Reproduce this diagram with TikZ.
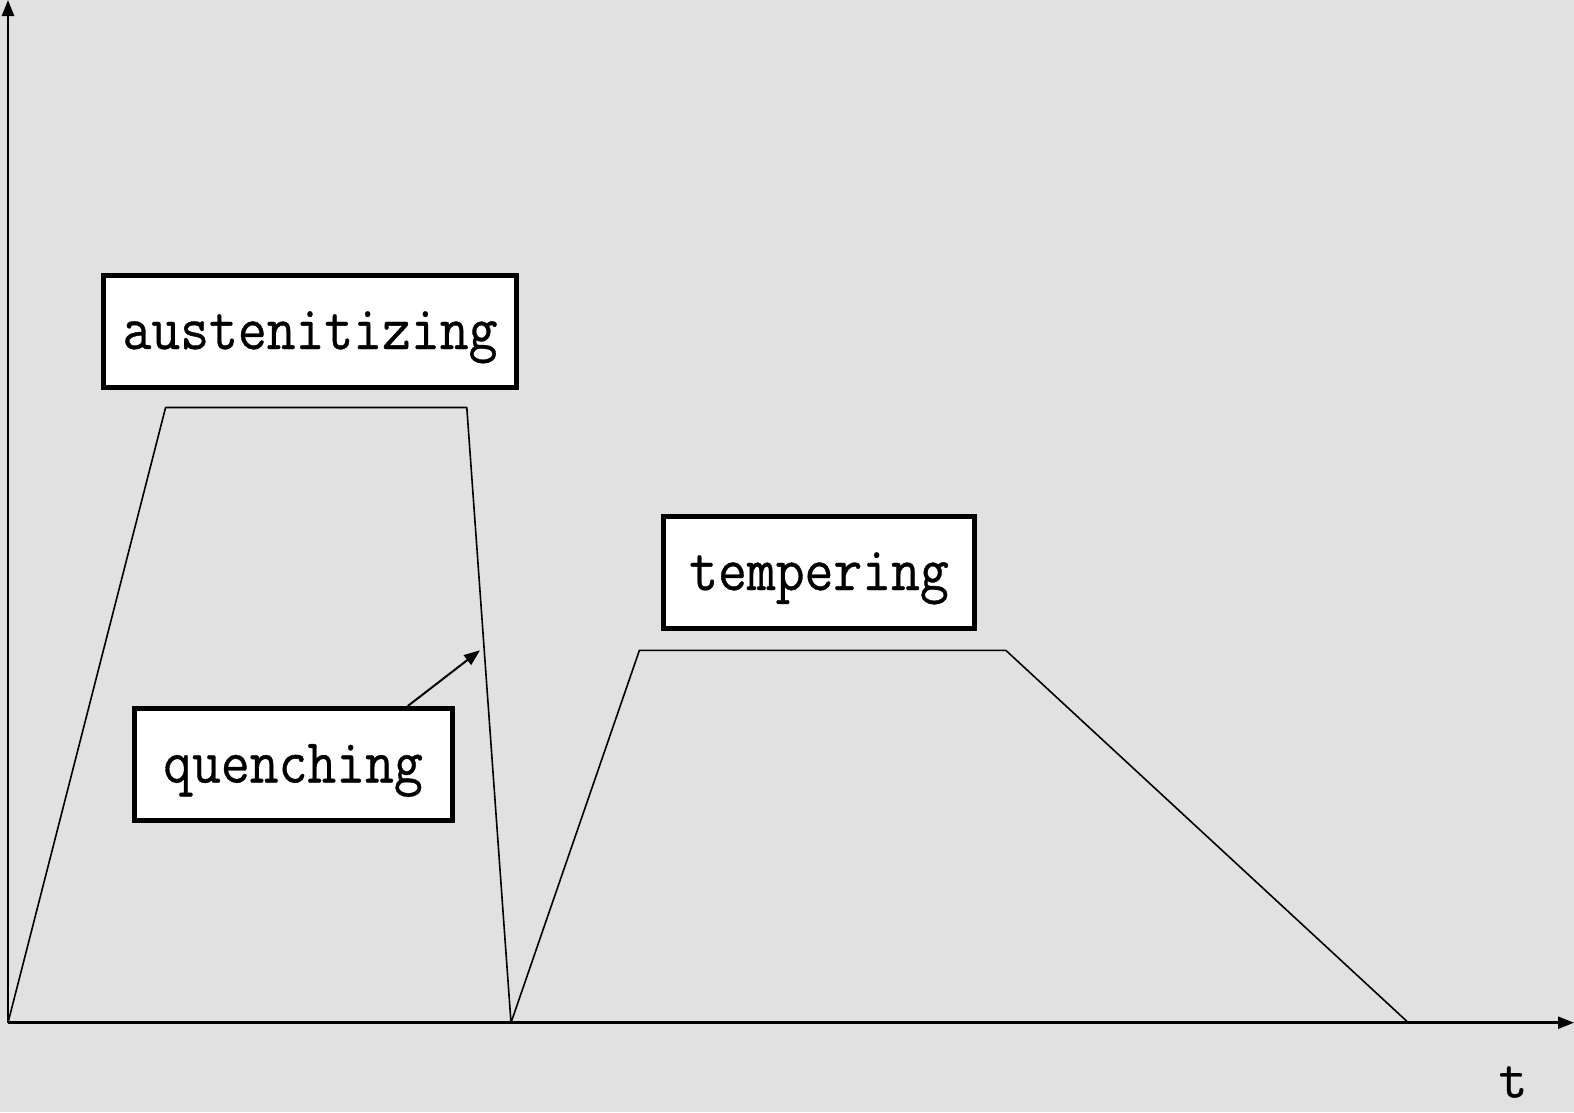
\documentclass[tikz,border=0pt]{standalone}
\usepackage{fontspec}
\newfontfamily\stagefont[FakeBold=0.6]{Latin Modern Mono}
\usetikzlibrary{arrows.meta}
\newcommand{\stagetext}[1]{\scalebox{1}[1.12]{#1}}
\tikzset{
  stagebox/.style={draw=black,fill=white,line width=5pt,inner sep=0pt,
    minimum height=112pt,text height=45pt,text depth=9pt,
    font=\fontsize{56}{60}\selectfont\stagefont},
  axisline/.style={line width=2.5pt,-{Triangle[length=16pt,width=12pt]}},
  cycleline/.style={line width=1.6pt,line join=round}
}
\begin{document}
\begin{tikzpicture}[x=1pt,y=-1pt]
  \definecolor{paper}{RGB}{225,225,225}
  \fill[paper] (0,0) rectangle (1574,1112);
  \useasboundingbox (0,0) rectangle (1574,1112);
  \coordinate (O)  at (8,1022.7);
  \coordinate (Y)  at (8,0);
  \coordinate (X)  at (1574,1022.7);
  \coordinate (A1) at (165.6,407.5);
  \coordinate (A2) at (466.8,407.5);
  \coordinate (Q)  at (511,1022.7);
  \coordinate (T1) at (639.4,650.3);
  \coordinate (T2) at (1005.8,650.3);
  \coordinate (E)  at (1408.4,1022.7);
  \coordinate (qtip) at (480,650.3);
  \draw[axisline] (O) -- (Y);
  \draw[axisline] (O) -- (X);
  \draw[cycleline] (O) -- (A1) -- (A2) -- (Q) -- (T1) -- (T2) -- (E);
  \node[stagebox,minimum width=413pt] (aust)   at (310,331)   {\stagetext{austenitizing}};
  \node[stagebox,minimum width=311pt] (temper) at (819,572)   {\stagetext{tempering}};
  \node[stagebox,minimum width=318pt] (quench) at (293,764.5) {\stagetext{quenching}};
  \draw[line width=2pt,-{Triangle[length=16pt,width=12pt]}] (quench.27.7) -- (qtip);
  \node[font=\fontsize{56}{60}\selectfont\stagefont] (tlabel) at (1513,1082) {t};
\end{tikzpicture}
\end{document}
